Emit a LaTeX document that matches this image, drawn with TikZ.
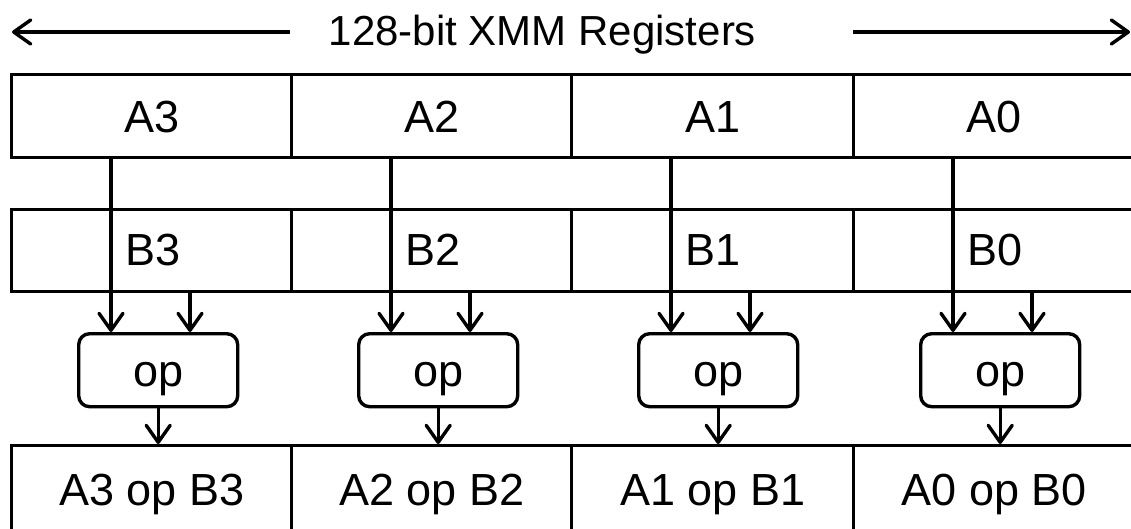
\documentclass[tikz,border=0pt]{standalone}
\usepackage{fontspec}
\setmainfont{Liberation Sans}
\usetikzlibrary{arrows.meta}
\begin{document}
\begin{tikzpicture}[x=1pt,y=-1pt,
  line width=3.4pt,
  txt/.style={font=\fontsize{45}{54}\selectfont,text height=32pt,text depth=0pt,inner sep=0pt},
  cell/.style={txt,draw,rectangle,anchor=north west,fill=white},
  opbox/.style={txt,draw,rectangle,rounded corners=11pt,minimum width=159pt,minimum height=73pt,anchor=north west},
  arr/.style={-{Straight Barb[length=17pt,width=24pt,round]}},
  ]
\useasboundingbox (0,0) rectangle (1131,528);

% heading with span arrows
\node[font=\fontsize{42}{50}\selectfont,inner sep=0pt,anchor=base] (title) at (542.5,45) {128-bit XMM Registers};
\coordinate (lstart) at (290,32);
\coordinate (lend) at (12,32);
\coordinate (rstart) at (853,32);
\coordinate (rend) at (1130,32);
\draw[arr] (lstart) -- (lend);
\draw[arr] (rstart) -- (rend);

% four lanes: left edge / width / element index
\foreach \x/\w/\n in {10/280/3, 290/280/2, 570/282/1, 852/281/0}{
  \node[cell,minimum width=\w pt,minimum height=83pt] (a\n) at (\x,73) {A\n};
  \node[cell,minimum width=\w pt,minimum height=82pt] (b\n) at (\x,208) {};
  \node[txt,anchor=west] (lb\n) at (\x+114,249) {B\n};
  \node[opbox] (op\n) at (\x+67,332) {op};
  \node[cell,minimum width=\w pt,minimum height=88pt] (r\n) at (\x,444) {A\n{} op B\n};
  \coordinate (pa\n) at (\x+101,0);
  \coordinate (pb\n) at (\x+180,0);
  \draw[arr] (a\n.south -| pa\n) -- (op\n.north -| pa\n);
  \draw[arr] (b\n.south -| pb\n) -- (op\n.north -| pb\n);
  \draw[arr] (op\n.south) -- (r\n.north -| op\n.south);
}
\end{tikzpicture}
\end{document}
